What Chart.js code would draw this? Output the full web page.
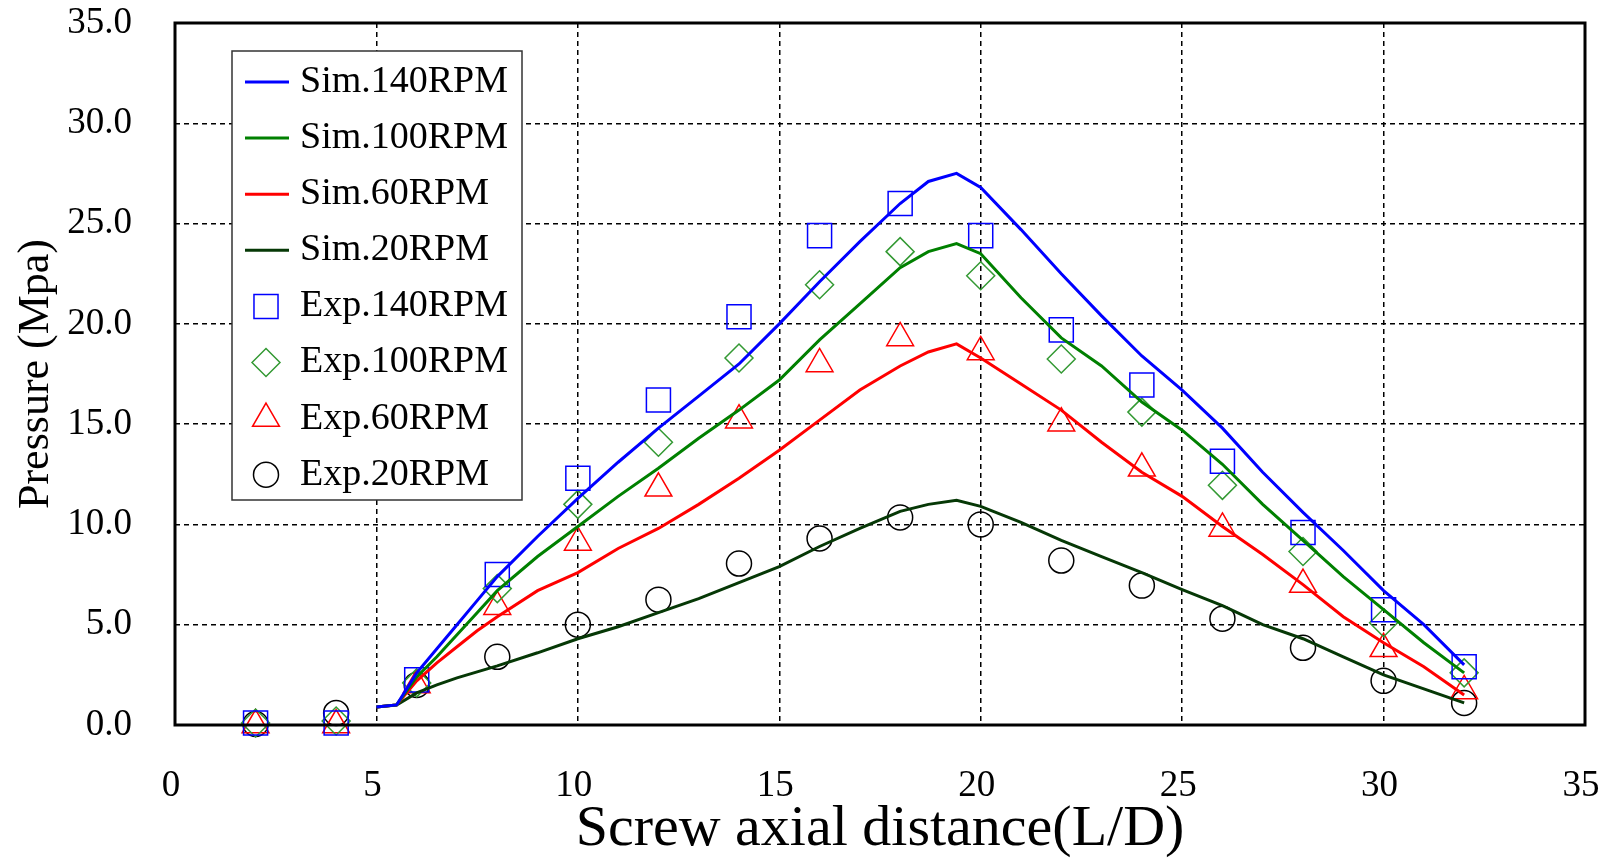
<!DOCTYPE html>
<html>
<head>
<meta charset="utf-8">
<title>Screw pressure profile</title>
<script src="https://cdn.jsdelivr.net/npm/chart.js@4.4.1/dist/chart.umd.min.js"></script>
<style>
  html, body { margin: 0; padding: 0; background: #fff; }
  #wrap { width: 1607px; height: 859px; }
</style>
</head>
<body>
<div id="wrap"><canvas id="pressureChart"></canvas></div>
<script>
// simulated curves (L/D vs MPa)
const simX = [5, 5.5, 6, 6.5, 7, 7.5, 8, 9, 10, 11, 12, 13, 14, 15, 16, 17, 18, 18.7, 19.4, 20, 21, 22, 23, 24, 25, 26, 27, 28, 29, 30, 31, 32];
const sim140 = [0.9, 1.0, 2.6, 3.8, 5.0, 6.2, 7.4, 9.4, 11.3, 13.1, 14.8, 16.4, 18.0, 20.0, 22.1, 24.1, 26.0, 27.1, 27.5, 26.8, 24.7, 22.5, 20.4, 18.4, 16.7, 14.8, 12.6, 10.6, 8.7, 6.7, 5.0, 3.0];
const sim100 = [0.9, 1.0, 2.4, 3.4, 4.5, 5.6, 6.7, 8.4, 9.9, 11.4, 12.8, 14.3, 15.7, 17.2, 19.2, 21.0, 22.8, 23.6, 24.0, 23.5, 21.3, 19.3, 17.9, 16.1, 14.7, 13.0, 11.0, 9.2, 7.4, 5.75, 4.1, 2.6];
const sim60 = [0.9, 1.0, 2.2, 3.1, 3.9, 4.7, 5.4, 6.7, 7.6, 8.8, 9.8, 11.0, 12.3, 13.7, 15.2, 16.7, 17.9, 18.6, 19.0, 18.3, 17.0, 15.7, 14.1, 12.6, 11.4, 9.9, 8.5, 7.0, 5.4, 4.1, 2.9, 1.5];
const sim20 = [0.9, 1.0, 1.6, 2.0, 2.35, 2.65, 2.95, 3.6, 4.3, 4.9, 5.6, 6.3, 7.1, 7.9, 8.9, 9.8, 10.65, 11.0, 11.2, 10.9, 10.1, 9.2, 8.4, 7.6, 6.75, 5.95, 5.0, 4.3, 3.4, 2.5, 1.8, 1.1];

// measured points
const expX = [2, 4, 6, 8, 10, 12, 14, 16, 18, 20, 22, 24, 26, 28, 30, 32];
const exp140 = [0.1, 0.1, 2.25, 7.5, 12.3, 16.2, 20.35, 24.4, 26.0, 24.4, 19.7, 16.95, 13.15, 9.6, 5.75, 2.9];
const exp100 = [0.1, 0.2, 2.1, 6.8, 11.0, 14.1, 18.3, 21.95, 23.6, 22.4, 18.25, 15.6, 11.95, 8.65, 5.1, 2.6];
const exp60 = [0.0, 0.0, 2.0, 5.9, 9.1, 11.8, 15.2, 18.0, 19.3, 18.6, 15.05, 12.8, 9.8, 7.0, 3.8, 1.7];
const exp20 = [0.05, 0.6, 2.0, 3.4, 5.0, 6.25, 8.05, 9.3, 10.35, 10.0, 8.2, 6.95, 5.3, 3.85, 2.2, 1.1];

const xTicks = [0, 5, 10, 15, 20, 25, 30, 35];
const yTicks = [0, 5, 10, 15, 20, 25, 30, 35];

const SERIF = "'Liberation Serif', 'Times New Roman', serif";

function pts(xs, ys) {
  return xs.map((x, i) => ({ x: x, y: ys[i] }));
}

function simLine(label, ys, color) {
  return {
    label: label,
    data: pts(simX, ys),
    showLine: true,
    borderColor: color,
    backgroundColor: color,
    borderWidth: 3,
    pointRadius: 0,
    pointHoverRadius: 0,
    tension: 0
  };
}

function expPoints(label, ys, color, style, r) {
  return {
    label: label,
    data: pts(expX, ys),
    showLine: false,
    pointStyle: style,
    pointRadius: r,
    pointHoverRadius: r,
    pointBorderColor: color,
    borderColor: color,
    pointBackgroundColor: 'rgba(0,0,0,0)',
    backgroundColor: 'rgba(0,0,0,0)',
    pointBorderWidth: 1.5,
    clip: false
  };
}

// fixed axis box sizes; drop the label overhang so the plot keeps its place
function fixSize(s, w, h) {
  if (w) s.width = w;
  if (h) s.height = h;
  s.paddingLeft = 0;
  s.paddingRight = 0;
  s.paddingTop = 0;
  s.paddingBottom = 0;
}

// solid box round the plot area
const plotFrame = {
  id: 'plotFrame',
  afterDatasetsDraw(chart) {
    const a = chart.chartArea;
    const ctx = chart.ctx;
    ctx.save();
    ctx.strokeStyle = '#000';
    ctx.lineWidth = 3;
    ctx.strokeRect(a.left, a.top, a.right - a.left, a.bottom - a.top);
    ctx.restore();
  }
};

function drawMarker(ctx, style, r, x, y) {
  if (Chart.helpers && Chart.helpers.drawPoint) {
    Chart.helpers.drawPoint(ctx, { pointStyle: style, radius: r, borderWidth: 1.5, rotation: 0 }, x, y);
    return;
  }
  ctx.beginPath();
  if (style === 'rect') {
    const s = r * Math.SQRT1_2;
    ctx.rect(x - s, y - s, 2 * s, 2 * s);
  } else if (style === 'rectRot') {
    ctx.moveTo(x - r, y); ctx.lineTo(x, y - r); ctx.lineTo(x + r, y); ctx.lineTo(x, y + r); ctx.closePath();
  } else if (style === 'triangle') {
    ctx.moveTo(x, y - r); ctx.lineTo(x + 0.866 * r, y + r / 2); ctx.lineTo(x - 0.866 * r, y + r / 2); ctx.closePath();
  } else {
    ctx.arc(x, y, r, 0, Math.PI * 2);
  }
  ctx.stroke();
}

// legend boxed inside the plot, upper left
const boxLegend = {
  id: 'boxLegend',
  afterDraw(chart) {
    const ctx = chart.ctx;
    const a = chart.chartArea;
    const left = a.left + 57, top = a.top + 28;
    const w = 290, h = 449, rowH = 56.1;
    ctx.save();
    ctx.fillStyle = '#fff';
    ctx.fillRect(left, top, w, h);
    ctx.strokeStyle = '#333';
    ctx.lineWidth = 1.5;
    ctx.strokeRect(left, top, w, h);
    ctx.font = '38px ' + SERIF;
    ctx.textBaseline = 'middle';
    ctx.textAlign = 'left';
    chart.data.datasets.forEach((ds, i) => {
      const y = top + 31 + i * rowH;
      if (ds.showLine) {
        ctx.strokeStyle = ds.borderColor;
        ctx.lineWidth = ds.borderWidth;
        ctx.beginPath();
        ctx.moveTo(left + 13, y);
        ctx.lineTo(left + 57, y);
        ctx.stroke();
      } else {
        ctx.strokeStyle = ds.pointBorderColor;
        ctx.fillStyle = 'rgba(0,0,0,0)';
        ctx.lineWidth = 1.5;
        drawMarker(ctx, ds.pointStyle, ds.pointRadius, left + 34, y);
      }
      ctx.fillStyle = '#000';
      ctx.fillText(ds.label, left + 68, y);
    });
    ctx.restore();
  }
};

const gridColor = (c) => (c.tick && (c.tick.value === 0 || c.tick.value === 35)) ? 'rgba(0,0,0,0)' : '#000';

new Chart(document.getElementById('pressureChart'), {
  type: 'scatter',
  data: {
    datasets: [
      simLine('Sim.140RPM', sim140, '#0000ff'),
      simLine('Sim.100RPM', sim100, '#008000'),
      simLine('Sim.60RPM', sim60, '#ff0000'),
      simLine('Sim.20RPM', sim20, '#063806'),
      expPoints('Exp.140RPM', exp140, '#0000ff', 'rect', 17),
      expPoints('Exp.100RPM', exp100, '#339933', 'rectRot', 14),
      expPoints('Exp.60RPM', exp60, '#ff0000', 'triangle', 15.5),
      expPoints('Exp.20RPM', exp20, '#000000', 'circle', 12.5)
    ]
  },
  options: {
    responsive: true,
    maintainAspectRatio: false,
    animation: false,
    layout: { padding: { left: 0, top: 23, right: 22, bottom: 0 } },
    plugins: {
      legend: { display: false },
      tooltip: { enabled: false }
    },
    scales: {
      x: {
        type: 'linear',
        min: 0,
        max: 35,
        afterBuildTicks: (s) => { s.ticks = xTicks.map(v => ({ value: v })); },
        afterFit: (s) => fixSize(s, 0, 134),
        ticks: {
          color: '#000',
          font: { family: SERIF, size: 37 },
          padding: 39,
          labelOffset: -4,
          maxRotation: 0
        },
        grid: { color: gridColor, lineWidth: 1.5, drawTicks: false },
        border: { display: false, dash: [5, 4] },
        title: {
          display: true,
          text: 'Screw axial distance(L/D)',
          color: '#000',
          font: { family: SERIF, size: 58, lineHeight: 1 },
          padding: { top: 0, bottom: 0 }
        }
      },
      y: {
        type: 'linear',
        min: 0,
        max: 35,
        afterBuildTicks: (s) => { s.ticks = yTicks.map(v => ({ value: v })); },
        afterFit: (s) => fixSize(s, 175, 0),
        ticks: {
          color: '#000',
          font: { family: SERIF, size: 37 },
          padding: 43,
          callback: (v) => Number(v).toFixed(1)
        },
        grid: { color: gridColor, lineWidth: 1.5, drawTicks: false },
        border: { display: false, dash: [5, 4] },
        title: {
          display: true,
          text: 'Pressure (Mpa)',
          color: '#000',
          font: { family: SERIF, size: 44, lineHeight: 1 },
          padding: { top: 14, bottom: 0 }
        }
      }
    }
  },
  plugins: [plotFrame, boxLegend]
});
</script>
</body>
</html>
